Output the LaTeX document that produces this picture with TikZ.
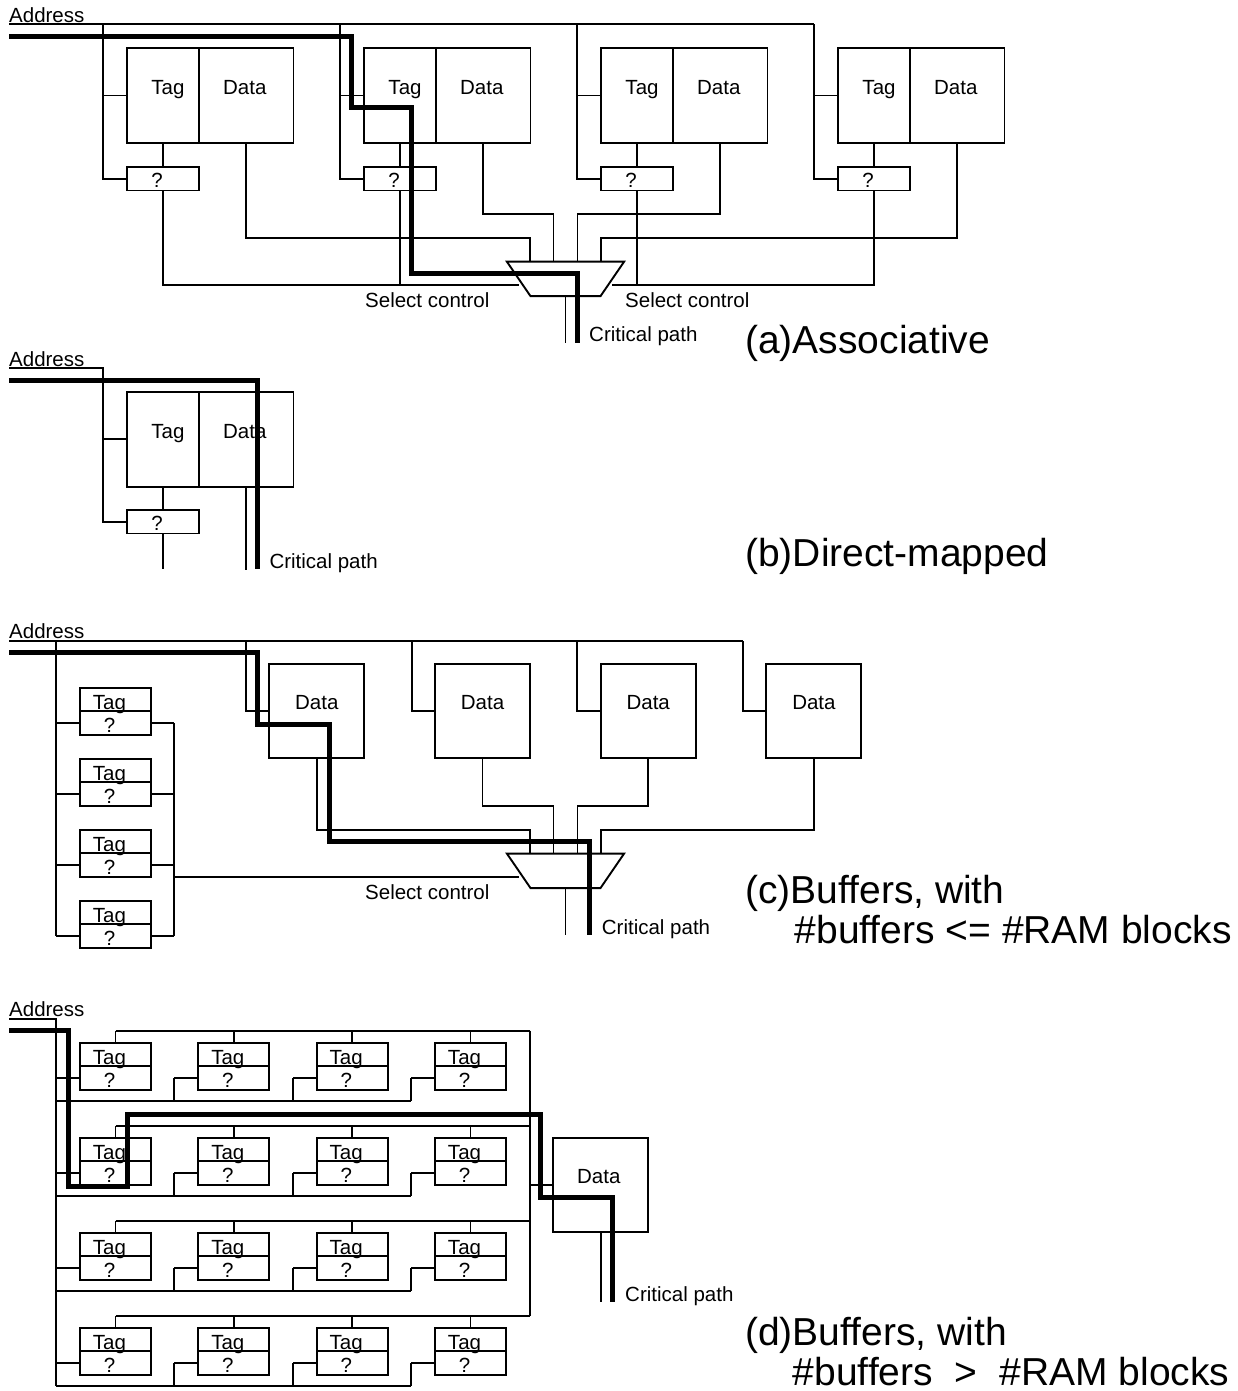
\documentclass[tikz,border=0pt]{standalone}
\usepackage{fontspec}
\setmainfont{Liberation Sans}
\usetikzlibrary{positioning,shapes.geometric}
\newcommand\lblfont{\fontsize{20.5}{24}\selectfont}
\newcommand\capfont{\fontsize{39}{40}\selectfont}
\tikzset{
  wire/.style={line width=1.9pt},
  crit/.style={line width=5pt},
  blk/.style={
    draw,
    line width=1.9pt,
    inner sep=0pt,
    outer sep=0pt,
    anchor=north west
  },
  tagbox/.style={blk, minimum width=72pt, text height=47pt, text depth=48pt},
  databox/.style={blk, minimum width=94.5pt, text height=47pt, text depth=48pt},
  cmpbox/.style={blk, minimum width=72pt, text height=20.5pt, text depth=3pt},
  ramblk/.style={blk, minimum width=95pt, text height=45.5pt, text depth=48.8pt},
  buftag/.style={blk, minimum width=71pt, text height=21.5pt, text depth=1.5pt},
  bufcmp/.style={blk, minimum width=71pt, text height=21.5pt, text depth=2.5pt},
  mux/.style={
    draw,
    line width=1.9pt,
    trapezium,
    shape border rotate=180,
    trapezium angle=55.6,
    inner sep=0pt,
    outer sep=0pt,
    text width=70pt,
    text height=34.5pt
  },
  lbl/.style={font=\lblfont, inner sep=0pt, anchor=base west},
  captxt/.style={font=\capfont, inner sep=0pt, anchor=base west, align=left}
}
\begin{document}
\begin{tikzpicture}[x=1pt, y=1pt, font=\lblfont]
\useasboundingbox (0,0) rectangle (1238,-1391);

% (a) associative
\node[lbl] (addrA) at (9,-22.5) {Address};
\coordinate (busA) at (9,-24.3);
\foreach \i/\x in {1/127,2/364,3/601,4/838} {
  \node[tagbox] (tagA\i) at (\x,-48) {\hspace*{10pt}Tag};
  \node[databox, right=0pt of tagA\i] (dataA\i) {Data\hspace*{3pt}};
  \node[cmpbox] (cmpA\i) at (\x,-167) {?\hspace*{12pt}};
  \draw[wire] (tagA\i.south) -- (cmpA\i.north);
  \draw[wire] (tagA\i.west) -- ++(-24,0);
  \draw[wire] (cmpA\i.west) -- ++(-24,0) coordinate (dropA\i) -- (dropA\i |- busA);
}
\draw[wire] (busA) -- (dropA4 |- busA);

\node[mux] (muxA) at (565.5,-278.9) {};
\draw[wire] (dataA1.south) -- ++(0,-95) -| ([xshift=-35.3pt]muxA.north);
\draw[wire] (dataA2.south) -- ++(0,-71) -| ([xshift=-12pt]muxA.north);
\draw[wire] (dataA3.south) -- ++(0,-71) -| ([xshift=12pt]muxA.north);
\draw[wire] (dataA4.south) -- ++(0,-95) -| ([xshift=35.3pt]muxA.north);
\draw[wire] (cmpA1.south) |- ([yshift=-6pt]muxA.west);
\draw[wire] (cmpA2.south) -- ++(0,-94);
\draw[wire] (cmpA3.south) -- ++(0,-94);
\draw[wire] ([yshift=-6pt]muxA.east) -| (cmpA4.south);
\draw[wire] (muxA.south) -- ++(0,-47);

\node[lbl] (selA1) at (365,-307) {Select control};
\node[lbl] (selA2) at (625,-307) {Select control};
\node[lbl] (critA) at (589,-341.5) {Critical path};
\node[captxt] (capA) at (745,-353.3) {(a)Associative};
\coordinate (critA0) at (9,-36.7);
\draw[crit] (critA0) -| (351.7,-107.3) -| (411.7,-273.3) -| (577.3,-343);

% (b) direct-mapped
\node[lbl] (addrB) at (9,-366.5) {Address};
\coordinate (busB) at (9,-368.3);
\node[tagbox] (tagB) at (127,-391.7) {\hspace*{10pt}Tag};
\node[databox, right=0pt of tagB] (dataB) {Data\hspace*{3pt}};
\node[cmpbox] (cmpB) at (127,-510) {?\hspace*{12pt}};
\draw[wire] (tagB.south) -- (cmpB.north);
\draw[wire] (tagB.west) -- ++(-24,0);
\draw[wire] (cmpB.west) -- ++(-24,0) |- (busB);
\draw[wire] (cmpB.south) -- ++(0,-35.7);
\draw[wire] (dataB.south) -- ++(0,-83.3);

\node[lbl] (critB) at (269.3,-568) {Critical path};
\node[captxt] (capB) at (745,-566.5) {(b)Direct-mapped};
\coordinate (critB0) at (9,-380);
\draw[crit] (critB0) -| (257.3,-569);

% (c) buffers <= RAM blocks
\node[lbl] (addrC) at (9,-638) {Address};
\coordinate (busC) at (9,-640.7);
\foreach \i in {1,...,4} {
  \node[buftag] (tagC\i) at (80,{-688.3-70.9*(\i-1)}) {Tag\hspace*{12pt}};
  \node[bufcmp, below=0pt of tagC\i] (cmpC\i) {?\hspace*{12pt}};
  \draw[wire] (cmpC\i.west) -- ++(-24,0) coordinate (dropC\i);
  \draw[wire] (cmpC\i.east) -- ++(23.3,0) coordinate (orC\i);
}
\draw[wire] (orC1) -- (orC4);
\foreach \j/\x in {1/269.3,2/435,3/600.7,4/766.4} {
  \node[ramblk] (dataC\j) at (\x,-664) {Data};
  \draw[wire] (dataC\j.west) -- ++(-23.3,0) coordinate (ddC\j) -- (ddC\j |- busC);
}
\draw[wire] (busC) -- (ddC4 |- busC);
\draw[wire] (dropC1 |- busC) -- (dropC4);

\node[mux] (muxC) at (565.5,-870.8) {};
\draw[wire] (dataC1.south) -- ++(0,-71.7) -| ([xshift=-35.3pt]muxC.north);
\draw[wire] (dataC2.south) -- ++(0,-47.4) -| ([xshift=-12pt]muxC.north);
\draw[wire] (dataC3.south) -- ++(0,-47.4) -| ([xshift=12pt]muxC.north);
\draw[wire] (dataC4.south) -- ++(0,-71.7) -| ([xshift=35.3pt]muxC.north);
\draw[wire] ([yshift=-6pt]muxC.west) coordinate (mselC) -- (orC1 |- mselC);
\draw[wire] (muxC.south) -- ++(0,-46.7);

\node[lbl] (selC) at (365,-899.3) {Select control};
\node[lbl] (critC) at (601.7,-934.3) {Critical path};
\node[captxt] (capC) at (745,-943) {(c)Buffers, with\\\phantom{(c)}\hspace*{4pt}\#buffers <= \#RAM blocks};
\coordinate (critC0) at (9,-652.3);
\draw[crit] (critC0) -| (257.3,-724.3) -| (329,-841.7) -| (589,-935);

% (d) buffers > RAM blocks
\node[lbl] (addrD) at (9,-1016.5) {Address};
\coordinate (busD) at (9,-1019.3);
\foreach \r in {1,...,4} {
  \foreach \c/\x in {1/80,2/198.3,3/316.7,4/435} {
    \node[buftag] (tagD\r\c) at (\x,{-1042.7-95*(\r-1)}) {Tag\hspace*{12pt}};
    \node[bufcmp, below=0pt of tagD\r\c] (cmpD\r\c) {?\hspace*{12pt}};
    \draw[wire] (tagD\r\c.north) -- ++(0,12) coordinate (tpD\r\c);
    \draw[wire] (cmpD\r\c.west) -- ++(-24,0) coordinate (inD\r\c);
  }
  \draw[wire] (inD\r2) -- ++(0,-23.4);
  \draw[wire] (inD\r3) -- ++(0,-23.4);
  \draw[wire] (inD\r4) -- ++(0,-23.4) coordinate (reD\r);
  \draw[wire] (inD\r1 |- reD\r) -- (reD\r);
  \draw[wire] (tpD\r1) -- (tpD\r4) -- ++(59.3,0) coordinate (rtD\r);
}
\draw[wire] (busD) -| (inD11 |- reD4);
\draw[wire] (rtD1) -- (rtD4);

\node[ramblk] (dataD) at (553.3,-1137.7) {Data\hspace*{4pt}};
\draw[wire] (dataD.west) -- (dataD.west -| rtD1);
\draw[wire] (dataD.south) -- ++(0,-69.7);

\node[lbl] (critD) at (625,-1301.7) {Critical path};
\node[captxt] (capD) at (745,-1385.5) {(d)Buffers, with\\\phantom{(d)}\#buffers\hspace*{11pt} >\hspace*{11pt} \#RAM blocks};
\coordinate (critD0) at (9,-1030.7);
\draw[crit] (critD0) -| (68.3,-1186) -| (127.7,-1114) -| (540,-1197.3) -| (612.3,-1302);

\end{tikzpicture}
\end{document}
